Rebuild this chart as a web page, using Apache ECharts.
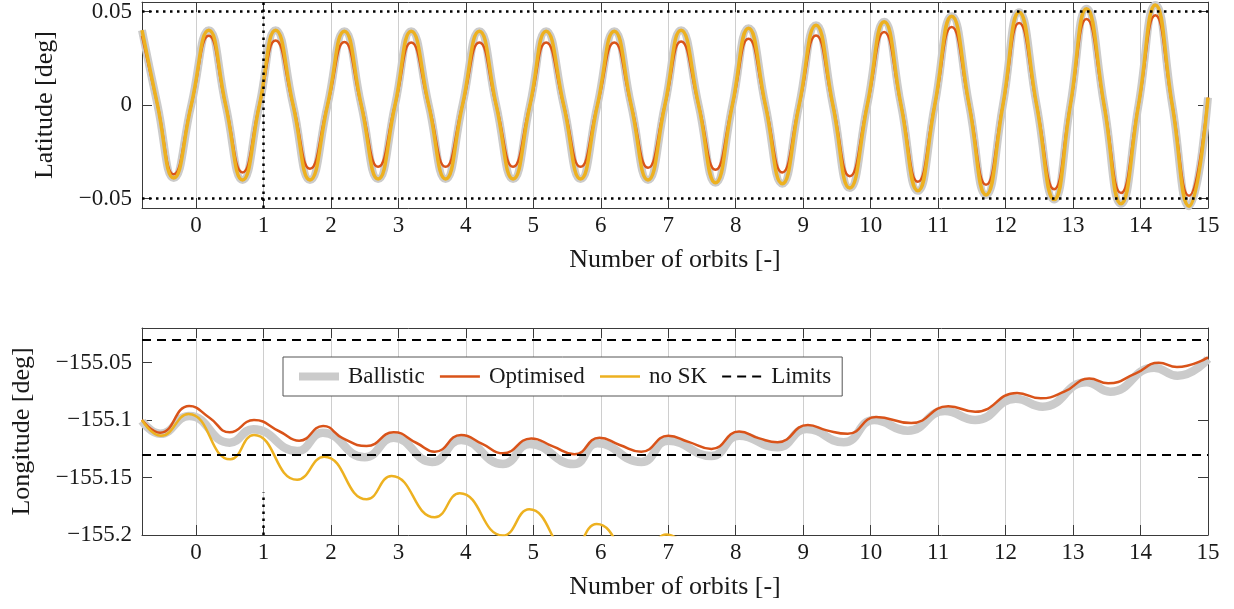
<!DOCTYPE html>
<html><head><meta charset="utf-8">
<script src="https://cdn.jsdelivr.net/npm/echarts@6/dist/echarts.min.js"></script>
<style>html,body{margin:0;padding:0;background:#fff}#c{width:1234px;height:609px}</style>
</head><body><div id="c"></div>
<script>
// ---------- tick labels / reference values ----------
const orbitTicks = [0,1,2,3,4,5,6,7,8,9,10,11,12,13,14,15];
const latTicks = [-0.05, 0, 0.05];
const lonTicks = [-155.2, -155.15, -155.1, -155.05];
const latLimits = [-0.05, 0.05];
const lonLimits = [-155.13, -155.03];
const markOrbit = 1;
const markLonSpan = [-155.2, -155.163];

// ---------- latitude (top panel) ----------
const latX = [-0.8, -0.57, -0.33, -0.07, 0.19,
  0.44, 0.69, 0.94, 1.18,
  1.44, 1.69, 1.95, 2.20,
  2.45, 2.70, 2.95, 3.19,
  3.45, 3.70, 3.95, 4.20,
  4.45, 4.70, 4.95, 5.19,
  5.45, 5.70, 5.95, 6.20,
  6.45, 6.70, 6.95, 7.19,
  7.45, 7.70, 7.95, 8.19,
  8.44, 8.69, 8.94, 9.19,
  9.44, 9.69, 9.95, 10.20,
  10.45, 10.70, 10.95, 11.20,
  11.46, 11.71, 11.96, 12.20,
  12.46, 12.72, 12.96, 13.20,
  13.46, 13.71, 13.97, 14.22,
  14.47, 14.72, 15.0];
const latOptimised = [0.037, 0, -0.037, 0, 0.037,
  0, -0.036, 0, 0.0345,
  0, -0.034, 0, 0.0337,
  0, -0.033, 0, 0.0335,
  0, -0.033, 0, 0.0335,
  0, -0.033, 0, 0.0335,
  0, -0.033, 0, 0.0335,
  0, -0.0335, 0, 0.034,
  0, -0.0345, 0, 0.0355,
  0, -0.036, 0, 0.0372,
  0, -0.038, 0, 0.039,
  0, -0.041, 0, 0.0417,
  0, -0.0426, 0, 0.0438,
  0, -0.045, 0, 0.046,
  0, -0.047, 0, 0.048,
  0, -0.0485, 0.004];
const latNoSK = [0.040, 0, -0.039, 0, 0.040,
  0, -0.040, 0, 0.040,
  0, -0.040, 0, 0.0395,
  0, -0.0395, 0, 0.0395,
  0, -0.0395, 0, 0.0395,
  0, -0.0395, 0, 0.0395,
  0, -0.0395, 0, 0.0395,
  0, -0.040, 0, 0.040,
  0, -0.0415, 0, 0.041,
  0, -0.042, 0, 0.0426,
  0, -0.0443, 0, 0.0445,
  0, -0.0458, 0, 0.0475,
  0, -0.048, 0, 0.0496,
  0, -0.0505, 0, 0.0515,
  0, -0.0527, 0, 0.0535,
  0, -0.054, 0.004];
const latBallistic = [0.040, 0, -0.039, 0, 0.040,
  0, -0.040, 0, 0.040,
  0, -0.040, 0, 0.0395,
  0, -0.0395, 0, 0.0395,
  0, -0.0395, 0, 0.0395,
  0, -0.0395, 0, 0.0395,
  0, -0.0395, 0, 0.0395,
  0, -0.040, 0, 0.040,
  0, -0.0415, 0, 0.041,
  0, -0.042, 0, 0.0426,
  0, -0.0443, 0, 0.0445,
  0, -0.0458, 0, 0.0475,
  0, -0.048, 0, 0.0496,
  0, -0.0505, 0, 0.0515,
  0, -0.0527, 0, 0.0535,
  0, -0.054, 0.004];

// ---------- longitude (bottom panel) ----------
const lonOptX = [-0.8, -0.53, -0.10, 0.20, 0.50, 0.86, 1.24, 1.53, 1.885, 2.18, 2.53, 2.93, 3.27, 3.54, 3.93, 4.25, 4.55, 4.97, 5.29, 5.61, 5.98, 6.28, 6.60, 7.00, 7.30, 7.64, 8.05, 8.35, 8.62, 9.07, 9.35, 9.66, 10.08, 10.60, 11.15, 11.55, 12.17, 12.52, 12.87, 13.24, 13.52, 13.93, 14.27, 14.54, 15.0];
const lonOptimised = [-155.100, -155.111, -155.0878, -155.098, -155.1107, -155.100, -155.110, -155.118, -155.1052, -155.116, -155.1226, -155.1107, -155.120, -155.1276, -155.113, -155.121, -155.129, -155.116, -155.123, -155.1298, -155.1154, -155.1217, -155.1276, -155.1137, -155.119, -155.1252, -155.110, -155.116, -155.1194, -155.1043, -155.109, -155.112, -155.0974, -155.1027, -155.0881, -155.0928, -155.0765, -155.0811, -155.0754, -155.064, -155.0681, -155.0594, -155.0502, -155.054, -155.0455];
const lonBalX = [-0.8, -0.53, -0.10, 0.50, 0.85, 1.50, 1.88, 2.50, 2.93, 3.50, 3.93, 4.55, 4.95, 5.60, 5.95, 6.60, 7.00, 7.64, 8.05, 8.62, 9.05, 9.60, 10.05, 10.55, 11.10, 11.55, 12.15, 12.55, 13.20, 13.55, 14.20, 14.55, 15.0];
const lonBallistic = [-155.101, -155.112, -155.0965, -155.1197, -155.108, -155.127, -155.111, -155.1324, -155.1154, -155.1365, -155.1174, -155.1383, -155.1209, -155.1383, -155.1203, -155.1365, -155.118, -155.1313, -155.1137, -155.1237, -155.1078, -155.1194, -155.100, -155.1093, -155.0922, -155.100, -155.0815, -155.0884, -155.0672, -155.0754, -155.0545, -155.0615, -155.047];
const lonNoSKX = [-0.8, -0.52, -0.11, 0.51, 0.86, 1.50, 1.90, 2.53, 2.90, 3.54, 3.91, 4.55, 4.94, 5.55, 5.94, 6.55, 6.97, 7.55];
const lonNoSK = [-155.100, -155.1137, -155.0948, -155.1342, -155.113, -155.152, -155.1319, -155.169, -155.1487, -155.1846, -155.1637, -155.2005, -155.1777, -155.215, -155.1904, -155.226, -155.1995, -155.236];

// ---------- styling ----------
const FONT = "'Liberation Serif', 'Times New Roman', serif";
const INK = '#1a1a1a';
const FRAME = '#3a3a3a';
const C_BAL = '#cbcbcb', C_OPT = '#d95319', C_NOSK = '#edb120';

const pair = (xs, ys) => xs.map((x, i) => [x, ys[i]]);
const fmt = v => {
  const a = +Math.abs(v).toFixed(4);
  if (a === 0) return '0';
  return (v < 0 ? '\u2212' : '') + String(a);
};

function xAxes(g) {
  return [{
    type: 'value', gridIndex: g, min: -0.8, max: 15, position: 'bottom',
    axisLine: {show: true, onZero: false, lineStyle: {color: FRAME, width: 1}},
    axisTick: {show: true, inside: true, length: 10, customValues: orbitTicks, lineStyle: {color: FRAME, width: 1}},
    axisLabel: {show: true, customValues: orbitTicks, margin: 6, fontFamily: FONT, fontSize: 23, color: INK},
    splitLine: {show: true, lineStyle: {color: '#cecece', width: 1}},
    name: 'Number of orbits [-]', nameLocation: 'middle', nameGap: 39,
    nameTextStyle: {fontFamily: FONT, fontSize: 26, color: INK}
  }, {
    type: 'value', gridIndex: g, min: -0.8, max: 15, position: 'top',
    axisLine: {show: true, onZero: false, lineStyle: {color: FRAME, width: 1}},
    axisTick: {show: true, inside: true, length: 10, customValues: orbitTicks, lineStyle: {color: FRAME, width: 1}},
    axisLabel: {show: false}, splitLine: {show: false}
  }];
}
function yAxes(g, min, max, ticks, name, gap) {
  return [{
    type: 'value', gridIndex: g, min: min, max: max, position: 'left',
    axisLine: {show: true, onZero: false, lineStyle: {color: FRAME, width: 1}},
    axisTick: {show: true, inside: true, length: 10, customValues: ticks, lineStyle: {color: FRAME, width: 1}},
    axisLabel: {show: true, customValues: ticks, margin: 10, formatter: fmt, fontFamily: FONT, fontSize: 23, color: INK},
    splitLine: {show: false},
    name: name, nameLocation: 'middle', nameGap: gap,
    nameTextStyle: {fontFamily: FONT, fontSize: 26, color: INK}
  }, {
    type: 'value', gridIndex: g, min: min, max: max, position: 'right',
    axisLine: {show: true, onZero: false, lineStyle: {color: FRAME, width: 1}},
    axisTick: {show: true, inside: true, length: 10, customValues: ticks, lineStyle: {color: FRAME, width: 1}},
    axisLabel: {show: false}, splitLine: {show: false}
  }];
}
function lineSeries(name, xi, yi, data, color, width, z) {
  return {
    type: 'line', name: name, xAxisIndex: xi, yAxisIndex: yi, data: data,
    smooth: 0.5, symbol: 'none', showSymbol: false, clip: true, z: z,
    lineStyle: {color: color, width: width}, itemStyle: {color: color},
    emphasis: {disabled: true}, silent: true
  };
}
const dotted = {color: '#000', width: 2.5, type: [2.5, 4.5]};
const dashed = {color: '#000', width: 2, type: [9, 6]};
const hidden = {opacity: 0, borderWidth: 0};

const option = {
  animation: false,
  backgroundColor: '#fff',
  grid: [
    {left: 142, top: 1, width: 1066, height: 207},
    {left: 142, top: 328, width: 1066, height: 207}
  ],
  xAxis: [...xAxes(0), ...xAxes(1)],
  yAxis: [
    ...yAxes(0, -0.055, 0.055, latTicks, 'Latitude [deg]', 84),
    ...yAxes(1, -155.2, -155.02, lonTicks, 'Longitude [deg]', 107)
  ],
  legend: {
    left: 283, top: 357, orient: 'horizontal',
    padding: [8, 11, 8, 12], itemGap: 14, itemWidth: 40, itemHeight: 14,
    backgroundColor: '#fff', borderColor: '#555', borderWidth: 1, borderRadius: 0,
    textStyle: {fontFamily: FONT, fontSize: 23, color: INK, padding: [0, 0, 0, 4]},
    selectedMode: false,
    data: [
      {name: 'Ballistic', itemStyle: hidden, lineStyle: {color: C_BAL, width: 8}},
      {name: 'Optimised', itemStyle: hidden, lineStyle: {color: C_OPT, width: 2.5}},
      {name: 'no SK', itemStyle: hidden, lineStyle: {color: C_NOSK, width: 2.5}},
      {name: 'Limits', itemStyle: hidden, lineStyle: {color: '#000', width: 2, type: [9, 6]}}
    ]
  },
  series: [
    // top panel
    lineSeries('Ballistic', 0, 0, pair(latX, latBallistic), C_BAL, 8, 2),
    lineSeries('Optimised', 0, 0, pair(latX, latOptimised), C_OPT, 2.5, 3),
    lineSeries('no SK', 0, 0, pair(latX, latNoSK), C_NOSK, 3.5, 4),
    {
      type: 'line', name: 'latBounds', xAxisIndex: 0, yAxisIndex: 0, data: [], silent: true, z: 5,
      markLine: {
        silent: true, symbol: ['none', 'none'], label: {show: false}, animation: false,
        lineStyle: dotted, emphasis: {disabled: true},
        data: [...latLimits.map(v => ({yAxis: v})), {xAxis: markOrbit}]
      }
    },
    // bottom panel
    lineSeries('Ballistic', 2, 2, pair(lonBalX, lonBallistic), C_BAL, 8.5, 2),
    {
      type: 'line', name: 'Limits', xAxisIndex: 2, yAxisIndex: 2, data: [], silent: true, z: 3,
      symbol: 'none', lineStyle: dashed, itemStyle: {color: '#000'},
      markLine: {
        silent: true, symbol: ['none', 'none'], label: {show: false}, animation: false,
        lineStyle: dashed, emphasis: {disabled: true},
        data: lonLimits.map(v => ({yAxis: v}))
      }
    },
    {
      type: 'line', name: 'lonMark', xAxisIndex: 2, yAxisIndex: 2, data: [], silent: true, z: 3,
      markLine: {
        silent: true, symbol: ['none', 'none'], label: {show: false}, animation: false,
        lineStyle: dotted, emphasis: {disabled: true},
        data: [[{coord: [markOrbit, markLonSpan[0]]}, {coord: [markOrbit, markLonSpan[1]]}]]
      }
    },
    lineSeries('Optimised', 2, 2, pair(lonOptX, lonOptimised), C_OPT, 2.5, 4),
    lineSeries('no SK', 2, 2, pair(lonNoSKX, lonNoSK), C_NOSK, 2.5, 4)
  ]
};
const chart = echarts.init(document.getElementById('c'), null, {renderer: 'canvas'});
chart.setOption(option);
</script>
</body></html>
